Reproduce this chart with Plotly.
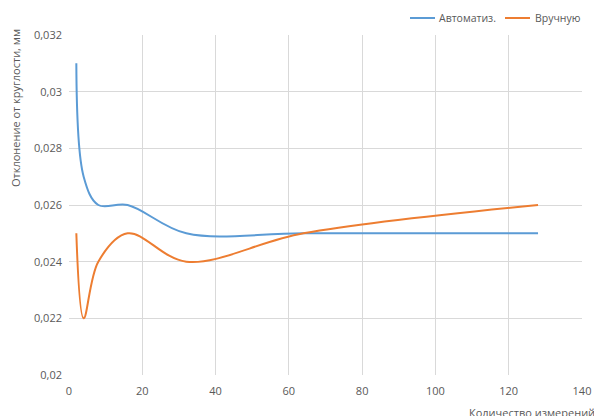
import plotly.graph_objects as go

x_vals = [2, 4, 8, 16, 32, 64, 128]
auto_vals = [0.031, 0.027, 0.026, 0.026, 0.025, 0.025, 0.025]
manual_vals = [0.025, 0.022, 0.024, 0.025, 0.024, 0.025, 0.026]
series_names = ["Автоматиз.", "Вручную"]
series_colors = ["#5B9BD5", "#ED7D31"]

y_ticks = [0.02, 0.022, 0.024, 0.026, 0.028, 0.03, 0.032]
y_ticktext = ["0,02", "0,022", "0,024", "0,026", "0,028", "0,03", "0,032"]
x_ticks = [0, 20, 40, 60, 80, 100, 120, 140]

font_fam = "Open Sans, Liberation Sans, sans-serif"
grey = "#595959"

W, H = 594, 416
L, R, T, B = 69, 12, 35, 41
pw, ph = W - L - R, H - T - B


def px_x(p):
    return (p - L) / pw


def px_y(p):
    return (H - B - p) / ph


fig = go.Figure()
for name, vals, col in zip(series_names, [auto_vals, manual_vals], series_colors):
    fig.add_trace(go.Scatter(x=x_vals, y=vals, name=name, mode="lines",
                             line=dict(color=col, width=2, shape="spline", smoothing=1.0)))

fig.update_layout(
    width=W, height=H,
    margin=dict(l=L, r=R, t=T, b=B, autoexpand=False),
    paper_bgcolor="white", plot_bgcolor="white",
    font=dict(family=font_fam, size=11, color=grey),
    showlegend=False,
    xaxis=dict(range=[0, 140], tickvals=x_ticks, showgrid=True, gridcolor="#d9d9d9",
               gridwidth=1, zeroline=False, showline=False, ticks="", automargin=False,
               ticklabelstandoff=8, ticklabeloverflow="allow",
               tickfont=dict(size=11, color=grey)),
    yaxis=dict(range=[0.02, 0.032], tickvals=y_ticks, ticktext=y_ticktext, showgrid=True,
               gridcolor="#d9d9d9", gridwidth=1, zeroline=False, showline=False, ticks="",
               automargin=False, ticklabelstandoff=6, ticklabeloverflow="allow",
               tickfont=dict(size=11, color=grey)),
)

# legend drawn manually (top right)
legend_items = [(410, 435, 437), (505, 530, 533)]
for (x0, x1, xt), name, col in zip(legend_items, series_names, series_colors):
    fig.add_shape(type="line", xref="paper", yref="paper",
                  x0=px_x(x0), x1=px_x(x1), y0=px_y(18), y1=px_y(18),
                  line=dict(color=col, width=2))
    fig.add_annotation(text=name, xref="paper", yref="paper", x=px_x(xt), y=px_y(18),
                       xanchor="left", yanchor="middle", showarrow=False,
                       font=dict(size=10.5, color=grey))

fig.add_annotation(text="Отклонение от круглости, мм", xref="paper", yref="paper",
                   x=px_x(15), y=px_y(108), textangle=-90, showarrow=False,
                   xanchor="center", yanchor="middle", font=dict(size=11, color=grey))
fig.add_annotation(text="Количество измерений", xref="paper", yref="paper",
                   x=px_x(467), y=px_y(403), showarrow=False, xanchor="left", yanchor="top",
                   font=dict(size=11, color=grey))

fig.write_html(
    "out.html",
    config={"displayModeBar": False},
    post_script="document.body.style.margin='0';document.body.style.overflow='hidden';",
)
